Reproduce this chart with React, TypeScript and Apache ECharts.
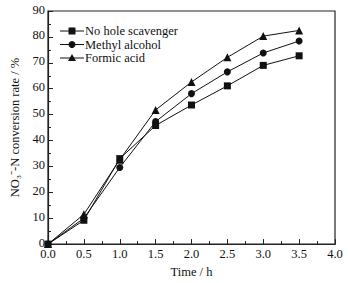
import React, { useEffect, useRef } from "react";
import * as echarts from "echarts";

const times = [0, 0.5, 1.0, 1.5, 2.0, 2.5, 3.0, 3.5];
const noHole = [0, 9.2, 33.0, 45.8, 53.7, 61.1, 69.0, 72.7];
const methyl = [0, 10.0, 29.6, 47.3, 58.1, 66.5, 73.8, 78.4];
const formic = [0, 11.5, 32.6, 51.8, 62.6, 72.1, 80.3, 82.5];
const seriesNames = ["No hole scavenger", "Methyl alcohol", "Formic acid"];
const symbols = ["rect", "circle", "triangle"];

export default function App() {
  const ref = useRef<HTMLDivElement>(null);
  useEffect(() => {
    const chart = echarts.init(ref.current!, null, { renderer: "svg" });
    const font = "Liberation Serif";
    const datasets = [noHole, methyl, formic];
    const legendX = 60;
    const legendY = [31, 44.5, 58];
    const legendGraphics: any[] = [];
    seriesNames.forEach((n, i) => {
      const y = legendY[i];
      const cx = legendX + 12;
      legendGraphics.push({ type: "line", shape: { x1: legendX, y1: y, x2: legendX + 24, y2: y }, style: { stroke: "#111", lineWidth: 1 } });
      if (symbols[i] === "rect") {
        legendGraphics.push({ type: "rect", shape: { x: cx - 3.5, y: y - 3.5, width: 7, height: 7 }, style: { fill: "#111" } });
      } else if (symbols[i] === "circle") {
        legendGraphics.push({ type: "circle", shape: { cx, cy: y, r: 3.5 }, style: { fill: "#111" } });
      } else {
        legendGraphics.push({ type: "polygon", shape: { points: [[cx, y - 4], [cx + 4, y + 3], [cx - 4, y + 3]] }, style: { fill: "#111" } });
      }
    });
    chart.setOption({
      animation: false,
      textStyle: { fontFamily: font, fontWeight: "normal" },
      title: seriesNames.map((n, i) => ({
        text: n,
        left: legendX + 25,
        top: legendY[i] - 8,
        padding: 0,
        textStyle: { fontFamily: font, fontWeight: "normal", fontSize: 12.5, color: "#111", lineHeight: 16 },
      })),
      grid: { left: 40, right: 13, top: 11, bottom: 31, show: true, borderColor: "#222", borderWidth: 1.2, backgroundColor: "transparent" },
      graphic: legendGraphics,
      xAxis: {
        type: "value",
        min: 0,
        max: 4,
        interval: 0.5,
        name: "Time / h",
        nameLocation: "middle",
        nameGap: 20,
        nameTextStyle: { fontFamily: font, fontWeight: "normal", fontSize: 12.5, color: "#111" },
        axisLine: { lineStyle: { color: "#222", width: 1.2 } },
        axisTick: { inside: true, length: 5, lineStyle: { color: "#222" } },
        minorTick: { show: true, splitNumber: 2, length: 3, lineStyle: { color: "#222" } },
        splitLine: { show: false },
        axisLabel: { fontFamily: font, fontSize: 12.5, color: "#111", margin: 3, formatter: (v: number) => v.toFixed(1) },
      },
      yAxis: {
        type: "value",
        min: 0,
        max: 90,
        interval: 10,
        name: "NO\u2083\u207B-N conversion rate / %",
        nameLocation: "middle",
        nameGap: 27,
        nameRotate: 90,
        nameTextStyle: { fontFamily: font, fontWeight: "normal", fontSize: 12.5, color: "#111" },
        axisLine: { lineStyle: { color: "#222", width: 1.2 } },
        axisTick: { inside: true, length: 5, lineStyle: { color: "#222" } },
        minorTick: { show: true, splitNumber: 2, length: 3, lineStyle: { color: "#222" } },
        splitLine: { show: false },
        axisLabel: { fontFamily: font, fontSize: 12.5, color: "#111", margin: 3, verticalAlign: "bottom", padding: [0, 0, -5, 0] },
      },
      series: datasets.map((d, i) => ({
        type: "line",
        name: seriesNames[i],
        data: d.map((v, j) => [times[j], v]),
        symbol: symbols[i],
        symbolSize: i === 2 ? 8 : 7,
        showAllSymbol: true,
        itemStyle: { color: "#111" },
        lineStyle: { color: "#111", width: 1 },
      })),
    });
    return () => chart.dispose();
  }, []);
  return <div ref={ref} style={{ width: 348, height: 283, position: "absolute", left: 0, top: 0 }} />;
}
